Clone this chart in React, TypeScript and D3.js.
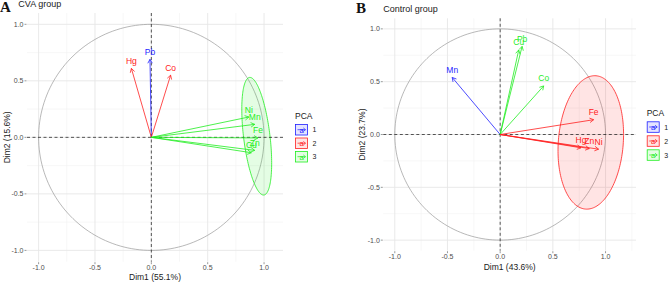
import React from "react";
import * as d3 from "d3";

// ---------- data ----------
const groupColors = ["#1F1FFF", "#FF2020", "#1FEE1F"];
const groupLabels = ["1", "2", "3"];

// Panel A: CVA group
const varsA = ["Pb", "Hg", "Co", "Ni", "Mn", "Fe", "Cu", "Zn"];
const dim1A = [-0.012, -0.177, 0.171, 0.865, 0.917, 0.946, 0.887, 0.917];
const dim2A = [0.69, 0.61, 0.55, 0.18, 0.115, -0.005, -0.136, -0.115];
const groupA = [1, 2, 2, 3, 3, 3, 3, 3];
const ellipseA = { group: 3, cx: 0.935, cy: 0.01, major: 0.524, minor: 0.117, tiltDeg: 7 };

// Panel B: Control group
const varsB = ["Mn", "Pb", "Cu", "Co", "Fe", "Hg", "Zn", "Ni"];
const dim1B = [-0.455, 0.208, 0.176, 0.413, 0.887, 0.767, 0.846, 0.934];
const dim2B = [0.54, 0.834, 0.8, 0.46, 0.14, -0.126, -0.133, -0.139];
const groupB = [1, 3, 3, 3, 2, 2, 2, 2];
const ellipseB = { group: 2, cx: 0.86, cy: -0.075, major: 0.633, minor: 0.308, tiltDeg: -4.5 };

const majorBreaks = [-1, -0.5, 0, 0.5, 1];
const tickLabels = ["-1.0", "-0.5", "0.0", "0.5", "1.0"];
const minorBreaks = [-0.75, -0.25, 0.25, 0.75, 1.25];

const FONT = "'Liberation Sans', Arial, Helvetica, sans-serif";

type PanelProps = {
  vars: string[];
  d1: number[];
  d2: number[];
  grp: number[];
  ell: { group: number; cx: number; cy: number; major: number; minor: number; tiltDeg: number };
  xDomain: [number, number];
  yDomain: [number, number];
  left: number;
  right: number;
  top: number;
  bottom: number;
  tag: string;
  tagX: number;
  tagY: number;
  title: string;
  titleX: number;
  titleY: number;
  xLab: string;
  yLab: string;
  xLabY: number;
  yLabX: number;
  legendX: number;
  legendY: number;
  legendStep: number;
};

function Panel(p: PanelProps) {
  const x = d3.scaleLinear().domain(p.xDomain).range([p.left, p.right]);
  const y = d3.scaleLinear().domain(p.yDomain).range([p.bottom, p.top]);
  const line = d3
    .line<[number, number]>()
    .x((d) => x(d[0]))
    .y((d) => y(d[1]))
    .curve(d3.curveLinearClosed);

  const ts = d3.range(0, 2 * Math.PI, (2 * Math.PI) / 180);
  const circlePts: [number, number][] = ts.map((t) => [Math.cos(t), Math.sin(t)]);
  const th = (p.ell.tiltDeg * Math.PI) / 180;
  const u = [-Math.sin(th), Math.cos(th)];
  const v = [Math.cos(th), Math.sin(th)];
  const ellPts: [number, number][] = ts.map((t) => [
    p.ell.cx + p.ell.major * Math.cos(t) * u[0] + p.ell.minor * Math.sin(t) * v[0],
    p.ell.cy + p.ell.major * Math.cos(t) * u[1] + p.ell.minor * Math.sin(t) * v[1],
  ]);
  const ellColor = groupColors[p.ell.group - 1];

  const inX = (b: number) => b >= p.xDomain[0] && b <= p.xDomain[1];
  const inY = (b: number) => b >= p.yDomain[0] && b <= p.yDomain[1];

  const headLen = 4.5;
  const x0 = x(0);
  const y0 = y(0);

  return (
    <g>
      {/* grid */}
      {minorBreaks.filter(inX).map((b) => (
        <line key={"mx" + b} x1={x(b)} x2={x(b)} y1={p.top} y2={p.bottom} stroke="#F2F2F2" strokeWidth={0.6} />
      ))}
      {minorBreaks.filter(inY).map((b) => (
        <line key={"my" + b} y1={y(b)} y2={y(b)} x1={p.left} x2={p.right} stroke="#F2F2F2" strokeWidth={0.6} />
      ))}
      {majorBreaks.map((b) => (
        <line key={"Mx" + b} x1={x(b)} x2={x(b)} y1={p.top} y2={p.bottom} stroke="#E6E6E6" strokeWidth={0.9} />
      ))}
      {majorBreaks.map((b) => (
        <line key={"My" + b} y1={y(b)} y2={y(b)} x1={p.left} x2={p.right} stroke="#E6E6E6" strokeWidth={0.9} />
      ))}

      {/* ticks & tick labels */}
      {majorBreaks.map((b, i) => (
        <g key={"tx" + b}>
          <line x1={x(b)} x2={x(b)} y1={p.bottom + 0.5} y2={p.bottom + 2.5} stroke="#555" strokeWidth={0.6} />
          <text x={x(b)} y={p.bottom + 8.5} textAnchor="middle" fontSize={7} fill="#4D4D4D" fontFamily={FONT}>
            {tickLabels[i]}
          </text>
        </g>
      ))}
      {majorBreaks.map((b, i) => (
        <g key={"ty" + b}>
          <line x1={p.left - 2.5} x2={p.left - 0.5} y1={y(b)} y2={y(b)} stroke="#555" strokeWidth={0.6} />
          <text x={p.left - 3.5} y={y(b) + 2.4} textAnchor="end" fontSize={7} fill="#4D4D4D" fontFamily={FONT}>
            {tickLabels[i]}
          </text>
        </g>
      ))}

      {/* unit circle */}
      <path d={line(circlePts) || ""} fill="none" stroke="#9A9A9A" strokeWidth={0.7} />

      {/* ellipse */}
      <path d={line(ellPts) || ""} fill={ellColor} fillOpacity={0.12} stroke={ellColor} strokeWidth={0.8} />

      {/* dashed axes */}
      <line x1={x0} x2={x0} y1={p.top} y2={p.bottom} stroke="#111" strokeWidth={0.7} strokeDasharray="3,2.5" />
      <line x1={p.left} x2={p.right} y1={y0} y2={y0} stroke="#111" strokeWidth={0.7} strokeDasharray="3,2.5" />

      {/* arrows */}
      {p.vars.map((name, i) => {
        const c = groupColors[p.grp[i] - 1];
        const px = x(p.d1[i]);
        const py = y(p.d2[i]);
        const a = Math.atan2(py - y0, px - x0);
        const h1x = px - headLen * Math.cos(a - Math.PI / 6);
        const h1y = py - headLen * Math.sin(a - Math.PI / 6);
        const h2x = px - headLen * Math.cos(a + Math.PI / 6);
        const h2y = py - headLen * Math.sin(a + Math.PI / 6);
        return (
          <g key={name}>
            <line x1={x0} y1={y0} x2={px} y2={py} stroke={c} strokeWidth={0.8} />
            <polyline points={`${h1x},${h1y} ${px},${py} ${h2x},${h2y}`} fill="none" stroke={c} strokeWidth={0.8} />
          </g>
        );
      })}
      {p.vars.map((name, i) => (
        <text
          key={"l" + name}
          x={x(p.d1[i])}
          y={y(p.d2[i]) - 4.5}
          textAnchor="middle"
          fontSize={8.5}
          fill={groupColors[p.grp[i] - 1]}
          fontFamily={FONT}
        >
          {name}
        </text>
      ))}

      {/* axis titles */}
      <text x={(p.left + p.right) / 2} y={p.xLabY} textAnchor="middle" fontSize={8.5} fill="#1A1A1A" fontFamily={FONT}>
        {p.xLab}
      </text>
      <text
        transform={`translate(${p.yLabX},${(p.top + p.bottom) / 2}) rotate(-90)`}
        textAnchor="middle"
        fontSize={8.5}
        fill="#1A1A1A"
        fontFamily={FONT}
      >
        {p.yLab}
      </text>

      {/* title and tag */}
      <text x={p.titleX} y={p.titleY} fontSize={9} fill="#1A1A1A" fontFamily={FONT}>
        {p.title}
      </text>
      <text x={p.tagX} y={p.tagY} fontSize={15} fontWeight="bold" fill="#111" fontFamily="'Liberation Serif', 'Times New Roman', serif">
        {p.tag}
      </text>

      {/* legend */}
      <text x={p.legendX} y={p.legendY} fontSize={8.5} fill="#1A1A1A" fontFamily={FONT}>
        PCA
      </text>
      {groupLabels.map((g, i) => {
        const c = groupColors[i];
        const kx = p.legendX + 0.5;
        const ky = p.legendY + 5.5 + i * p.legendStep;
        return (
          <g key={"lg" + g}>
            <rect x={kx} y={ky} width={12} height={10.5} fill={c} fillOpacity={0.12} stroke={c} strokeWidth={0.8} />
            <line x1={kx + 2} x2={kx + 10} y1={ky + 5.2} y2={ky + 5.2} stroke={c} strokeWidth={0.7} />
            <polyline
              points={`${kx + 7.8},${ky + 3.4} ${kx + 10},${ky + 5.2} ${kx + 7.8},${ky + 7}`}
              fill="none"
              stroke={c}
              strokeWidth={0.7}
            />
            <text x={kx + 6} y={ky + 8.2} textAnchor="middle" fontSize={7.5} fill={c} fontFamily={FONT}>
              a
            </text>
            <text x={kx + 17} y={ky + 7.8} fontSize={7} fill="#1A1A1A" fontFamily={FONT}>
              {g}
            </text>
          </g>
        );
      })}
    </g>
  );
}

export default function App() {
  return (
    <svg
      width={669}
      height={283}
      viewBox="0 0 669 283"
      style={{ position: "absolute", left: 0, top: 0, background: "#fff" }}
    >
      <rect x={0} y={0} width={669} height={283} fill="#fff" />
      <Panel
        vars={varsA}
        d1={dim1A}
        d2={dim2A}
        grp={groupA}
        ell={ellipseA}
        xDomain={[-1.103, 1.168]}
        yDomain={[-1.1, 1.1]}
        left={27}
        right={283}
        top={13}
        bottom={261.7}
        tag="A"
        tagX={0}
        tagY={12}
        title="CVA group"
        titleX={18.3}
        titleY={7}
        xLab="Dim1 (55.1%)"
        yLab="Dim2 (15.6%)"
        xLabY={280.3}
        yLabX={10}
        legendX={295}
        legendY={119}
        legendStep={13.5}
      />
      <Panel
        vars={varsB}
        d1={dim1B}
        d2={dim2B}
        grp={groupB}
        ell={ellipseB}
        xDomain={[-1.109, 1.289]}
        yDomain={[-1.1, 1.1]}
        left={383.3}
        right={636}
        top={18.3}
        bottom={250.7}
        tag="B"
        tagX={356}
        tagY={12.7}
        title="Control group"
        titleX={383.3}
        titleY={11.7}
        xLab="Dim1 (43.6%)"
        yLab="Dim2 (23.7%)"
        xLabY={269.7}
        yLabX={364.7}
        legendX={646.7}
        legendY={116.3}
        legendStep={14}
      />
    </svg>
  );
}
